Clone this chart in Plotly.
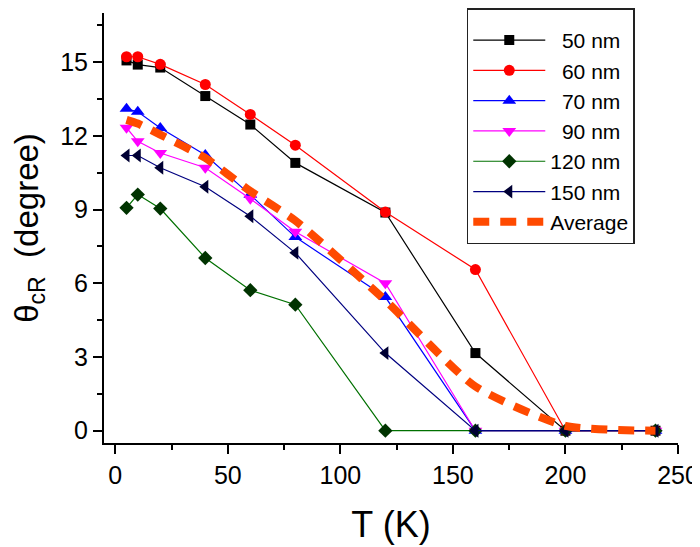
import plotly.graph_objects as go

T = [5, 10, 20, 40, 60, 80, 120, 160, 200, 240]

nm50 = [15.07, 14.9, 14.78, 13.62, 12.46, 10.9, 8.88, 3.16, 0.0, 0.0]
nm60 = [15.22, 15.22, 14.91, 14.09, 12.87, 11.62, 8.9, 6.56, 0.0, 0.0]
nm70 = [13.1, 12.98, 12.32, 11.22, 9.6, 7.88, 5.44, 0.0, 0.0, 0.0]
nm90 = [12.33, 11.78, 11.3, 10.7, 9.44, 8.1, 6.0, 0.0, 0.0, 0.0]
nm120 = [9.07, 9.61, 9.04, 7.03, 5.72, 5.13, 0.0, 0.0, 0.0, 0.0]
nm150 = [11.2, 11.2, 10.7, 9.93, 8.73, 7.24, 3.16, 0.0, 0.0, 0.0]
average = [12.65, 12.5, 12.05, 11.1, 9.75, 8.55, 5.3, 1.8, 0.2, 0.0]

names = ["\u00a0\u00a050 nm", "\u00a0\u00a060 nm", "\u00a0\u00a070 nm", "\u00a0\u00a090 nm", "120 nm", "150 nm"]
series = [nm50, nm60, nm70, nm90, nm120, nm150]
line_colors = ["#000000", "#ff0000", "#0000ff", "#ff00ff", "#007000", "#000080"]
marker_colors = ["#000000", "#ff0000", "#0000ff", "#ff00ff", "#003300", "#000033"]
symbols = ["square", "circle", "triangle-up", "triangle-down", "diamond", "triangle-left"]
sizes = [10, 11, 12, 12, 11, 12]

FONT = "Liberation Sans, Arial"

fig = go.Figure()
for name, ys, lc, mc, sym, sz in zip(names, series, line_colors, marker_colors, symbols, sizes):
    fig.add_trace(go.Scatter(
        x=T, y=ys, name=name, mode="lines+markers",
        line=dict(color=lc, width=1.2),
        marker=dict(symbol=sym, size=sz, color=mc, line=dict(width=0)),
    ))

fig.add_trace(go.Scatter(
    x=T, y=average, name="Average", mode="lines",
    line=dict(color="#ff4a00", width=8, dash="16px,11px", shape="spline", smoothing=0.6),
))

axis_common = dict(
    showline=True, linecolor="black", linewidth=2,
    ticks="outside", ticklen=9, tickwidth=2, tickcolor="black",
    showgrid=False, zeroline=False, mirror=False,
    tickfont=dict(family=FONT, size=25, color="black"),
)

fig.update_xaxes(
    range=[-5, 250], tick0=0, dtick=50,
    minor=dict(ticks="outside", ticklen=5, tickwidth=2, tickcolor="black", dtick=25, tick0=0),
    title=dict(text="T (K)", font=dict(family=FONT, size=36, color="black"), standoff=24),
    **axis_common,
)
fig.update_yaxes(
    range=[-0.5, 17], tick0=0, dtick=3,
    minor=dict(ticks="outside", ticklen=5, tickwidth=2, tickcolor="black", dtick=1.5, tick0=0),
    title=dict(text="θ<sub>cR</sub>  (degree)", font=dict(family=FONT, size=33, color="black"), standoff=14),
    **axis_common,
)

fig.update_layout(
    width=692, height=539,
    margin=dict(l=96, r=22, t=5, b=104, autoexpand=False),
    plot_bgcolor="white", paper_bgcolor="white",
    legend=dict(
        x=0.632, y=1.0116, xanchor="left", yanchor="top",
        bordercolor="#222222", borderwidth=1.5, bgcolor="white",
        font=dict(family=FONT, size=21, color="black"),
        itemwidth=72, tracegroupgap=0,
        title=dict(text="\u00a0", font=dict(family=FONT, size=8)),
    ),
)

fig.write_html("out.html")
